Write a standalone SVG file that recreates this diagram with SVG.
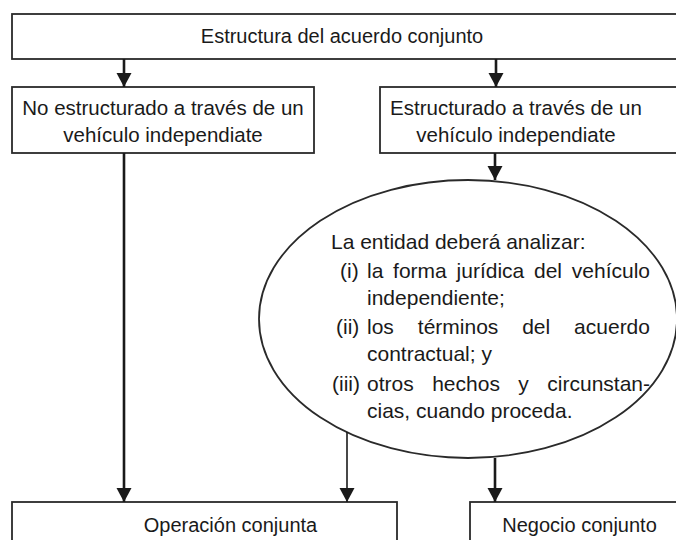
<svg xmlns="http://www.w3.org/2000/svg" width="676" height="540" viewBox="0 0 676 540">
<style>
.box{fill:#fff;stroke:#2a2a2a;stroke-width:1.8}
.t{font-family:"Liberation Sans",Arial,sans-serif;font-size:20px;fill:#1a1a1a}
.b{font-size:20.5px}
.e{font-size:21px}
.c{text-anchor:middle}
.ln{stroke:#1a1a1a;stroke-width:2.6;fill:none}
.thin{stroke-width:1.6}
</style>
<defs>
<marker id="ah" markerUnits="userSpaceOnUse" markerWidth="16" markerHeight="16" refX="14" refY="7.5" orient="auto">
<path d="M0,0 L14,7.5 L0,15 z" fill="#1a1a1a"/>
</marker>
</defs>
<rect width="676" height="540" fill="#fff"/>
<g id="top">
<rect class="box" x="12" y="14" width="690" height="45"/>
<text class="t c" x="342" y="43">Estructura del acuerdo conjunto</text>
</g>
<g id="noEstructurado">
<rect class="box" x="12" y="87" width="302" height="66"/>
<text class="t b c" x="163" y="115">No estructurado a través de un</text>
<text class="t b c" x="163" y="142">vehículo independiate</text>
</g>
<g id="estructurado">
<rect class="box" x="380" y="87" width="320" height="66"/>
<text class="t b c" x="516" y="115">Estructurado a través de un</text>
<text class="t b c" x="516" y="142">vehículo independiate</text>
</g>
<g id="analisis">
<ellipse class="box" cx="468" cy="319" rx="209" ry="139"/>
<text class="t e" x="331" y="249">La entidad deberá analizar:</text>
<text class="t e"><tspan x="340" y="278">(i)</tspan><tspan x="367" y="278">la</tspan><tspan x="393.1" y="278">forma</tspan><tspan x="456.6" y="278">jurídica</tspan><tspan x="534" y="278">del</tspan><tspan x="571.8" y="278">vehículo</tspan></text>
<text class="t e" x="367" y="305">independiente;</text>
<text class="t e"><tspan x="336" y="334">(ii)</tspan><tspan x="367" y="334">los</tspan><tspan x="417.8" y="334">términos</tspan><tspan x="522.2" y="334">del</tspan><tspan x="574.1" y="334">acuerdo</tspan></text>
<text class="t e" x="367" y="361">contractual; y</text>
<text class="t e"><tspan x="332" y="391">(iii)</tspan><tspan x="367" y="391">otros</tspan><tspan x="432.2" y="391">hechos</tspan><tspan x="518.3" y="391">y</tspan><tspan x="547.3" y="391">circunstan-</tspan></text>
<text class="t e" x="367" y="418">cias, cuando proceda.</text>
</g>
<g id="operacion">
<rect class="box" x="12" y="502" width="385" height="60"/>
<text class="t c" x="230.5" y="532">Operación conjunta</text>
</g>
<g id="negocio">
<rect class="box" x="470" y="502" width="300" height="60"/>
<text class="t c" x="579.5" y="532">Negocio conjunto</text>
</g>
<g id="connectors">
<line class="ln" x1="124" y1="59" x2="124" y2="87" marker-end="url(#ah)"/>
<line class="ln" x1="496" y1="59" x2="496" y2="87" marker-end="url(#ah)"/>
<line class="ln" x1="495" y1="153" x2="495" y2="180" marker-end="url(#ah)"/>
<line class="ln" x1="124" y1="153" x2="124" y2="502" marker-end="url(#ah)"/>
<line class="ln thin" x1="347" y1="432" x2="347" y2="502" marker-end="url(#ah)"/>
<line class="ln" x1="495" y1="458" x2="495" y2="502" marker-end="url(#ah)"/>
</g>
</svg>
